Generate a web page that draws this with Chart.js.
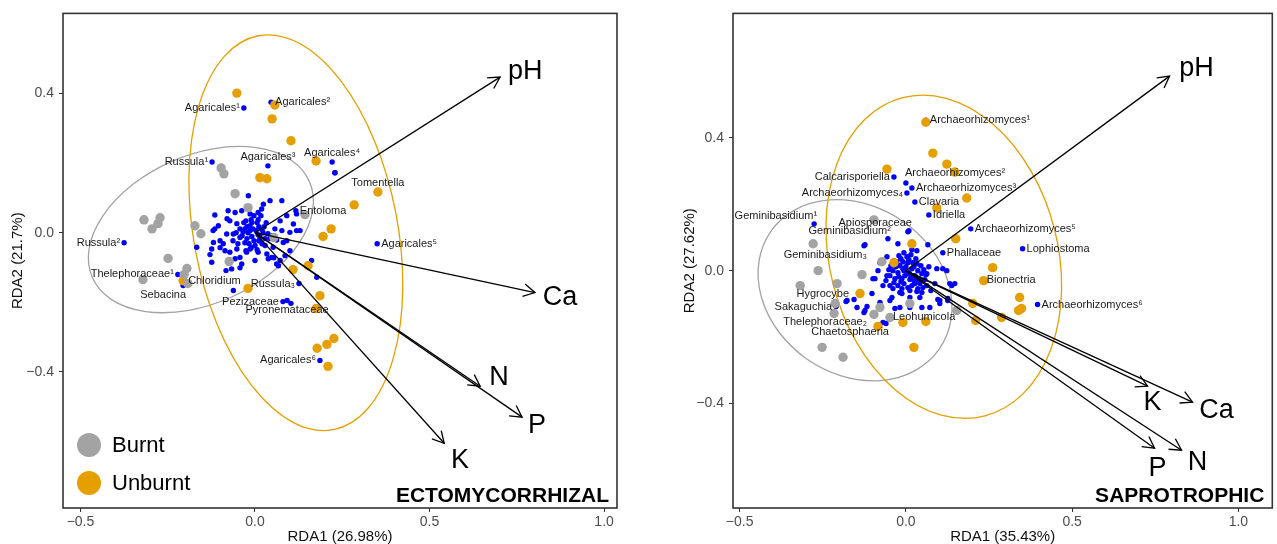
<!DOCTYPE html>
<html>
<head>
<meta charset="utf-8">
<script src="https://cdn.jsdelivr.net/npm/chart.js@4.4.0/dist/chart.umd.min.js"></script>
<style>
html, body { margin: 0; padding: 0; background: #fff; overflow: hidden; }
#wrapEcto { position: absolute; left: 0; top: 0; width: 640px; height: 544px; }
#wrapSapro { position: absolute; left: 672px; top: 0; width: 605px; height: 544px; }
</style>
</head>
<body>
<div id="wrapEcto"><canvas id="ectoChart"></canvas></div>
<div id="wrapSapro"><canvas id="saproChart"></canvas></div>
<script>
const FONT = "'Liberation Sans', Arial, Helvetica, sans-serif";
const BLUE = '#0000FF';
const GREY = '#A3A3A3';
const ORANGE = '#E69F00';

// ---------------- ECTOMYCORRHIZAL ----------------
const ectoXRange = [-0.55, 1.037];
const ectoYRange = [-0.791, 0.63];
const ectoXTicks = [-0.5, 0, 0.5, 1.0];
const ectoYTicks = [-0.4, 0, 0.4];
const ectoXTitle = 'RDA1 (26.98%)';
const ectoYTitle = 'RDA2 (21.7%)';

// environmental arrows (tips) and where their labels sit
const ectoVarNames = ['pH', 'Ca', 'N', 'P', 'K'];
const ectoVarX = [0.702, 0.802, 0.645, 0.765, 0.542];
const ectoVarY = [0.447, -0.172, -0.441, -0.530, -0.605];
const ectoVarLabelX = [0.774, 0.874, 0.699, 0.808, 0.587];
const ectoVarLabelY = [0.464, -0.186, -0.415, -0.553, -0.656];

// sites
const ectoBurntX = [-0.097, -0.089, -0.057, -0.020, -0.318, -0.295, -0.278, -0.272, -0.172, -0.155,
                    -0.249, -0.195, -0.203, -0.321, -0.192, -0.074, 0.143, 0.054];
const ectoBurntY = [0.186, 0.169, 0.112, 0.072, 0.037, 0.011, 0.026, 0.043, 0.020, -0.003,
                    -0.074, -0.103, -0.120, -0.135, -0.146, -0.083, 0.052, -0.014];
const ectoUnburntX = [-0.052, 0.057, 0.049, 0.103, 0.175, 0.014, 0.034, 0.352, 0.284, 0.218,
                      0.195, 0.109, 0.152, -0.206, -0.020, 0.186, 0.175, 0.178, 0.206, 0.226, 0.209];
const ectoUnburntY = [0.401, 0.367, 0.327, 0.264, 0.206, 0.158, 0.155, 0.117, 0.080, 0.011,
                      -0.011, -0.106, -0.095, -0.138, -0.160, -0.181, -0.218, -0.332, -0.321, -0.304, -0.384];

// named taxa
const ectoNamed = ['Agaricales¹', 'Agaricales²', 'Russula¹', 'Agaricales³', 'Agaricales⁴', 'Tomentella',
                   'Entoloma', 'Agaricales⁵', 'Russula²', 'Thelephoraceae¹', 'Chloridium', 'Sebacina',
                   'Russula₃', 'Pezizaceae', 'Pyronemataceae', 'Agaricales⁶'];
const ectoNamedX = [-0.032, 0.046, -0.123, 0.037, 0.221, 0.352, 0.117, 0.350, -0.375, -0.221, -0.203, -0.206,
                    0.126, 0.080, 0.092, 0.186];
const ectoNamedY = [0.358, 0.375, 0.203, 0.192, 0.203, 0.117, 0.063, -0.032, -0.029, -0.120, -0.140, -0.152,
                    -0.146, -0.198, -0.195, -0.367];
const ectoNamedSide = ['L', 'R', 'L', 'A', 'A', 'A', 'R', 'R', 'L', 'L', 'R', 'BL', 'L', 'L', 'B', 'L'];

// other taxa
const ectoTaxaX = [
  0.229, -0.019, 0.024, 0.019, 0.009, -0.014, -0.038, -0.057, -0.077, -0.115,
  -0.105, -0.115, -0.072, -0.081, -0.062, -0.100, -0.091, -0.119, -0.124, -0.129,
  -0.124, -0.067, -0.043, -0.057, -0.043, -0.024, 0.000, -0.014, 0.009, 0.034,
  0.038, 0.072, 0.062, 0.086, 0.119, 0.129, 0.100, 0.077, 0.057, 0.091,
  0.081, 0.119, 0.162, 0.177, -0.167, 0.077, 0.043, 0.110, 0.091, -0.038,
  0.014, 0.029, 0.052, 0.062, -0.086, -0.072, -0.052, -0.014, -0.006, 0.003,
  0.009, -0.009, -0.020, -0.029, -0.023, -0.003, 0.014, 0.020, -0.032, -0.011,
  0.006, 0.023, -0.037, -0.017, -0.026, 0.011, 0.000, -0.043, 0.029, 0.037,
  0.043, 0.049, 0.072, 0.048, 0.067, -0.062, -0.120, -0.080, -0.100, 0.054,
  0.100, -0.083, 0.103, 0.229, -0.014, -0.023, -0.009, 0.009, -0.003, -0.034,
  -0.043, -0.029, -0.011, 0.006, 0.020, 0.026, 0.032, -0.052, -0.049, 0.011,
  -0.026, -0.063, -0.054, 0.017
];
const ectoTaxaY = [
  0.172, 0.106, 0.082, 0.068, 0.058, 0.054, 0.063, 0.058, 0.063, 0.051,
  0.020, 0.011, 0.034, -0.004, -0.004, -0.023, -0.032, -0.028, -0.047, -0.063,
  -0.085, -0.104, -0.101, -0.075, -0.071, -0.056, -0.080, -0.047, -0.056, -0.061,
  -0.075, -0.080, -0.090, -0.066, 0.006, 0.006, 0.001, 0.006, 0.011, -0.023,
  -0.028, 0.054, -0.080, -0.128, -0.042, 0.092, 0.092, 0.025, 0.049, -0.090,
  -0.023, -0.037, -0.042, -0.021, -0.052, -0.056, -0.047, 0.020, 0.011, 0.006,
  -0.006, -0.011, 0.000, 0.011, -0.017, -0.023, -0.011, 0.009, 0.029, 0.037,
  0.029, 0.000, -0.009, -0.032, 0.034, 0.017, -0.037, 0.011, -0.017, -0.003,
  -0.017, -0.009, 0.034, -0.071, -0.095, -0.166, 0.006, 0.040, -0.043, -0.072,
  -0.052, -0.109, -0.203, 0.172, 0.006, 0.017, 0.029, 0.037, 0.049, 0.003,
  -0.014, -0.029, -0.043, -0.049, -0.032, 0.017, 0.029, 0.026, -0.032, -0.023,
  -0.052, -0.023, 0.000, 0.049
];

// group ellipses: centre, semi-axes, tilt (degrees)
const ectoEllCx = [-0.155, 0.117];
const ectoEllCy = [0.009, 0.000];
const ectoEllRx = [0.340, 0.292];
const ectoEllRy = [0.213, 0.576];
const ectoEllTilt = [24, 10.8];

// ---------------- SAPROTROPHIC ----------------
const saproXRange = [-0.52, 1.102];
const saproYRange = [-0.715, 0.775];
const saproXTicks = [-0.5, 0, 0.5, 1.0];
const saproYTicks = [-0.4, 0, 0.4];
const saproXTitle = 'RDA1 (35.43%)';
const saproYTitle = 'RDA2 (27.62%)';

const saproVarNames = ['pH', 'K', 'Ca', 'P', 'N'];
const saproVarX = [0.793, 0.727, 0.862, 0.748, 0.829];
const saproVarY = [0.586, -0.348, -0.396, -0.535, -0.541];
const saproVarLabelX = [0.874, 0.742, 0.934, 0.757, 0.877];
const saproVarLabelY = [0.610, -0.396, -0.420, -0.595, -0.577];

const saproBurntX = [-0.096, -0.072, -0.279, -0.264, -0.132, -0.318, -0.207, -0.213, -0.216, -0.096,
                     -0.078, 0.012, -0.048, 0.153, -0.252, -0.189];
const saproBurntY = [0.153, 0.027, 0.081, 0.000, -0.012, -0.045, -0.039, -0.099, -0.129, -0.132,
                     -0.111, -0.099, -0.141, -0.120, -0.231, -0.261];
const saproUnburntX = [0.060, 0.081, 0.123, 0.147, -0.057, 0.183, 0.093, 0.150, 0.018, 0.261,
                       0.234, 0.342, 0.339, 0.348, 0.288, 0.210, 0.201, -0.138, -0.084, -0.009,
                       0.060, 0.024, -0.036];
const saproUnburntY = [0.447, 0.354, 0.321, 0.297, 0.306, 0.219, 0.189, 0.096, 0.081, 0.009,
                       -0.030, -0.081, -0.120, -0.114, -0.141, -0.150, -0.099, -0.069, -0.168, -0.156,
                       -0.153, -0.231, 0.024];

const saproNamed = ['Archaeorhizomyces¹', 'Calcarisporiella', 'Archaeorhizomyces²', 'Archaeorhizomyces³',
                    'Archaeorhizomyces₄', 'Clavaria', 'Idriella', 'Geminibasidium¹', 'Apiosporaceae',
                    'Geminibasidium²', 'Geminibasidium₃', 'Archaeorhizomyces⁵', 'Lophiostoma', 'Phallaceae',
                    'Bionectria', 'Archaeorhizomyces⁶', 'Hygrocybe', 'Sakaguchia', 'Thelephoraceae₂',
                    'Chaetosphaeria', 'Leohumicola'];
const saproNamedX = [0.060, -0.036, 0.000, 0.018, 0.003, 0.027, 0.069, -0.276, 0.009, -0.054, -0.126,
                     0.195, 0.351, 0.111, 0.231, 0.396, -0.180, -0.210, -0.126, -0.060, -0.033];
const saproNamedY = [0.453, 0.282, 0.264, 0.249, 0.234, 0.207, 0.168, 0.141, 0.120, 0.096, 0.075,
                     0.126, 0.066, 0.054, -0.027, -0.102, -0.093, -0.108, -0.126, -0.159, -0.114];
const saproNamedSide = ['R', 'L', 'AR', 'R', 'L', 'R', 'R', 'AL', 'AL', 'AL', 'BL',
                        'R', 'R', 'R', 'R', 'R', 'AL', 'L', 'BL', 'BL', 'BR'];

const saproTaxaX = [
  0.006, -0.024, 0.066, 0.018, 0.033, -0.123, -0.057, -0.078, -0.084, -0.099,
  -0.057, -0.069, -0.039, -0.012, 0.012, 0.042, 0.048, 0.063, 0.093, 0.087,
  0.123, 0.132, 0.147, 0.102, 0.126, 0.072, -0.018, -0.042, 0.012, -0.078,
  -0.102, -0.177, 0.111, 0.063, -0.093, -0.048, -0.018, 0.096, 0.138, 0.126,
  -0.123, -0.048, 0.048, -0.117, -0.147, -0.156, -0.069, 0.102, 0.030, -0.018,
  -0.009, 0.000, 0.009, 0.018, -0.003, -0.024, -0.012, 0.012, 0.027, 0.006,
  0.021, -0.030, 0.036, -0.006, 0.018, -0.033, -0.015, 0.003, 0.027, 0.039,
  -0.039, 0.048, 0.012, -0.024, -0.006, 0.003, 0.015, -0.021, 0.024, 0.000,
  0.042, 0.057, 0.075, 0.033, -0.045, -0.036, -0.021, -0.006, 0.015, 0.030,
  0.045, 0.054, 0.060, 0.051, 0.036, 0.006, -0.012, -0.036, -0.048, -0.051,
  0.024, -0.027, 0.033, -0.009, 0.069, -0.060, 0.009, 0.045, -0.015
];
const saproTaxaY = [
  0.117, 0.081, 0.078, 0.063, 0.060, 0.078, 0.042, 0.024, 0.000, -0.024,
  -0.015, -0.045, -0.054, -0.069, -0.081, -0.081, -0.066, -0.045, 0.006, -0.039,
  0.000, -0.039, -0.039, -0.090, -0.090, -0.111, -0.111, -0.081, -0.111, -0.096,
  -0.069, -0.090, 0.006, -0.009, -0.024, -0.045, -0.066, -0.087, -0.045, -0.084,
  -0.120, -0.090, -0.111, -0.108, -0.111, -0.087, -0.156, -0.099, -0.030, 0.015,
  0.006, 0.000, -0.006, 0.006, -0.015, -0.006, -0.024, -0.027, -0.015, 0.024,
  0.024, 0.012, 0.000, -0.039, -0.045, -0.024, 0.036, 0.042, -0.039, -0.024,
  0.000, -0.009, -0.060, -0.045, 0.000, -0.009, -0.018, -0.018, 0.012, 0.012,
  -0.039, -0.027, -0.060, -0.063, 0.015, 0.030, 0.045, 0.054, 0.048, 0.036,
  0.015, 0.003, -0.012, -0.051, -0.054, -0.051, -0.054, -0.036, -0.015, 0.003,
  -0.030, 0.027, 0.021, 0.027, 0.012, -0.030, 0.033, -0.030, -0.033
];

const saproEllCx = [-0.153, 0.114];
const saproEllCy = [-0.059, 0.042];
const saproEllRx = [0.309, 0.343];
const saproEllRy = [0.253, 0.495];
const saproEllTilt = [-35, 14.5];

// -------------------------------------------------
const fmtTick = v => (v < 0 ? '\u2212' : '') + Math.abs(v).toFixed(1);
const pts = (xs, ys) => xs.map((v, i) => ({ x: v, y: ys[i] }));

function buildPanel(canvasId, p) {
  const datasets = [];
  p.varNames.forEach((n, i) => {
    datasets.push({
      label: n, isArrow: true,
      data: [{ x: 0, y: 0 }, { x: p.varX[i], y: p.varY[i] }],
      showLine: true, borderColor: '#000', borderWidth: 1.3,
      pointRadius: 0, order: 0
    });
  });
  datasets.push({ label: 'Burnt', data: pts(p.burntX, p.burntY), backgroundColor: GREY,
                  pointRadius: 4.7, borderWidth: 0, order: 1 });
  datasets.push({ label: 'Unburnt', data: pts(p.unburntX, p.unburntY), backgroundColor: ORANGE,
                  pointRadius: 4.7, borderWidth: 0, order: 1 });
  datasets.push({ label: 'Taxa', data: pts(p.taxaX, p.taxaY).concat(pts(p.namedX, p.namedY)),
                  backgroundColor: BLUE, pointRadius: 2.7, borderWidth: 0, order: 2 });

  const ellColors = [GREY, ORANGE];

  const plugin = {
    id: 'biplot_' + canvasId,
    beforeDatasetsDraw(chart) {
      const { ctx, chartArea: ca, scales: { x, y } } = chart;
      ctx.save();
      ctx.beginPath(); ctx.rect(ca.left, ca.top, ca.width, ca.height); ctx.clip();
      p.ellCx.forEach((cxv, i) => {
        const cx = x.getPixelForValue(cxv), cy = y.getPixelForValue(p.ellCy[i]);
        const rx = Math.abs(x.getPixelForValue(cxv + p.ellRx[i]) - cx);
        const ry = Math.abs(y.getPixelForValue(p.ellCy[i] + p.ellRy[i]) - cy);
        ctx.beginPath();
        ctx.ellipse(cx, cy, rx, ry, -p.ellTilt[i] * Math.PI / 180, 0, 2 * Math.PI);
        ctx.strokeStyle = ellColors[i]; ctx.lineWidth = 1.3; ctx.stroke();
      });
      ctx.restore();
    },
    afterDatasetsDraw(chart) {
      const { ctx, chartArea: ca, scales: { x, y } } = chart;
      ctx.save();
      // arrow heads
      ctx.strokeStyle = '#000'; ctx.lineWidth = 1.3;
      chart.data.datasets.forEach((ds, i) => {
        if (!ds.isArrow) return;
        const m = chart.getDatasetMeta(i);
        const a0 = m.data[0], a1 = m.data[1];
        const ang = Math.atan2(a1.y - a0.y, a1.x - a0.x);
        const L = 13, w = 0.5;
        ctx.beginPath();
        ctx.moveTo(a1.x - L * Math.cos(ang - w), a1.y - L * Math.sin(ang - w));
        ctx.lineTo(a1.x, a1.y);
        ctx.lineTo(a1.x - L * Math.cos(ang + w), a1.y - L * Math.sin(ang + w));
        ctx.stroke();
      });
      // taxa names
      ctx.font = '11px ' + FONT; ctx.fillStyle = '#1a1a1a'; ctx.textBaseline = 'middle';
      p.named.forEach((name, i) => {
        const px = x.getPixelForValue(p.namedX[i]), py = y.getPixelForValue(p.namedY[i]);
        const s = p.namedSide[i];
        let tx = px + 4, ty = py, al = 'left';
        if (s === 'L') { tx = px - 4; al = 'right'; }
        else if (s === 'A') { tx = px; ty = py - 9; al = 'center'; }
        else if (s === 'B') { tx = px; ty = py + 9; al = 'center'; }
        else if (s === 'AL') { tx = px + 3; ty = py - 8; al = 'right'; }
        else if (s === 'AR') { tx = px - 1; ty = py - 10; }
        else if (s === 'BL') { tx = px + 3; ty = py + 9; al = 'right'; }
        else if (s === 'BR') { tx = px - 2; ty = py + 8; }
        ctx.textAlign = al;
        ctx.fillText(name, tx, ty);
      });
      // variable names
      ctx.font = '27px ' + FONT; ctx.fillStyle = '#000'; ctx.textAlign = 'center';
      p.varNames.forEach((n, i) => {
        ctx.fillText(n, x.getPixelForValue(p.varLabelX[i]), y.getPixelForValue(p.varLabelY[i]));
      });
      // panel name
      ctx.font = 'bold 21px ' + FONT; ctx.textAlign = 'right'; ctx.textBaseline = 'alphabetic';
      ctx.fillText(p.name, ca.right - 8, ca.bottom - 6);
      // legend
      if (p.legend) {
        ctx.font = '22px ' + FONT; ctx.textAlign = 'left'; ctx.textBaseline = 'middle';
        [[datasets.find(d => d.label === 'Burnt'), 63], [datasets.find(d => d.label === 'Unburnt'), 25]]
          .forEach(([ds, off]) => {
            const cy = ca.bottom - off;
            ctx.beginPath(); ctx.arc(ca.left + 26, cy, 12, 0, 2 * Math.PI);
            ctx.fillStyle = ds.backgroundColor; ctx.fill();
            ctx.fillStyle = '#000'; ctx.fillText(ds.label, ca.left + 49, cy + 1);
          });
      }
      // frame
      ctx.strokeStyle = '#333'; ctx.lineWidth = 1.6;
      ctx.strokeRect(ca.left, ca.top, ca.width, ca.height);
      ctx.restore();
    }
  };

  const tickFont = { family: FONT, size: 14 };
  const titleFont = { family: FONT, size: 15, lineHeight: 1 };
  return new Chart(document.getElementById(canvasId), {
    type: 'scatter',
    data: { datasets },
    options: {
      responsive: true, maintainAspectRatio: false, animation: false, events: [],
      layout: { padding: { top: 12, right: p.padRight, left: 0, bottom: 0 } },
      plugins: { legend: { display: false }, tooltip: { enabled: false } },
      scales: {
        x: {
          type: 'linear', position: 'bottom', min: p.xRange[0], max: p.xRange[1],
          afterBuildTicks: s => { s.ticks = p.xTicks.map(v => ({ value: v })); },
          afterFit: s => { s.height = 36; },
          ticks: { callback: fmtTick, font: tickFont, color: '#4D4D4D', padding: 2, maxRotation: 0, autoSkip: false },
          grid: { display: true, drawOnChartArea: false, drawTicks: true, tickLength: 4, color: '#333' },
          border: { display: false },
          title: { display: true, text: p.xTitle, font: titleFont, color: '#111', padding: { top: 0, bottom: 0 } }
        },
        y: {
          type: 'linear', position: 'left', min: p.yRange[0], max: p.yRange[1],
          afterBuildTicks: s => { s.ticks = p.yTicks.map(v => ({ value: v })); },
          afterFit: s => { s.width = p.yAxisWidth; },
          ticks: { callback: fmtTick, font: tickFont, color: '#4D4D4D', padding: 5 },
          grid: { display: true, drawOnChartArea: false, drawTicks: true, tickLength: 4, color: '#333' },
          border: { display: false },
          title: { display: true, text: p.yTitle, font: titleFont, color: '#111', padding: { top: 10, bottom: 0 } }
        }
      }
    },
    plugins: [plugin]
  });
}

buildPanel('ectoChart', {
  name: 'ECTOMYCORRHIZAL', legend: true, padRight: 23, yAxisWidth: 63,
  xRange: ectoXRange, yRange: ectoYRange, xTicks: ectoXTicks, yTicks: ectoYTicks,
  xTitle: ectoXTitle, yTitle: ectoYTitle,
  varNames: ectoVarNames, varX: ectoVarX, varY: ectoVarY, varLabelX: ectoVarLabelX, varLabelY: ectoVarLabelY,
  burntX: ectoBurntX, burntY: ectoBurntY, unburntX: ectoUnburntX, unburntY: ectoUnburntY,
  named: ectoNamed, namedX: ectoNamedX, namedY: ectoNamedY, namedSide: ectoNamedSide,
  taxaX: ectoTaxaX, taxaY: ectoTaxaY,
  ellCx: ectoEllCx, ellCy: ectoEllCy, ellRx: ectoEllRx, ellRy: ectoEllRy, ellTilt: ectoEllTilt
});

buildPanel('saproChart', {
  name: 'SAPROTROPHIC', legend: false, padRight: 4, yAxisWidth: 61,
  xRange: saproXRange, yRange: saproYRange, xTicks: saproXTicks, yTicks: saproYTicks,
  xTitle: saproXTitle, yTitle: saproYTitle,
  varNames: saproVarNames, varX: saproVarX, varY: saproVarY, varLabelX: saproVarLabelX, varLabelY: saproVarLabelY,
  burntX: saproBurntX, burntY: saproBurntY, unburntX: saproUnburntX, unburntY: saproUnburntY,
  named: saproNamed, namedX: saproNamedX, namedY: saproNamedY, namedSide: saproNamedSide,
  taxaX: saproTaxaX, taxaY: saproTaxaY,
  ellCx: saproEllCx, ellCy: saproEllCy, ellRx: saproEllRx, ellRy: saproEllRy, ellTilt: saproEllTilt
});
</script>
</body>
</html>
